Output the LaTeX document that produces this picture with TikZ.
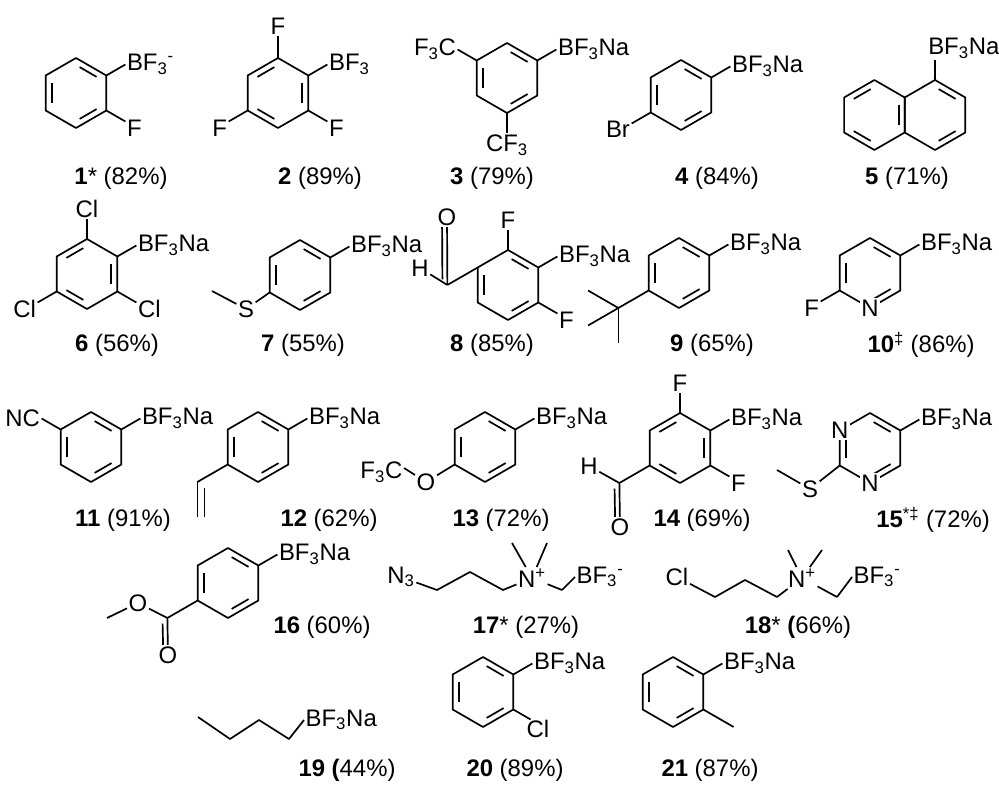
\documentclass[tikz,border=0pt]{standalone}
\usepackage{fontspec}
\setmainfont{Liberation Sans}
\usetikzlibrary{calc}

\newcommand{\ssub}[1]{\textsubscript{#1}}
\newcommand{\ssup}[1]{\textsuperscript{#1}}
% ring: centre x, centre y, name, inner double bonds
\newcommand{\benz}[4]{%
  \coordinate (#3) at (#1,#2);
  \foreach \k/\a in {1/-90,2/-30,3/30,4/90,5/150,6/210}
    \coordinate (#3\k) at ($(#3)+(\a:\rr)$);
  \draw[bond] (#31)--(#32)--(#33)--(#34)--(#35)--(#36)--cycle;
  \foreach \i/\j in {#4}
    \draw[bond,shorten <=3pt,shorten >=3pt] ($(#3)!0.8!(#3\i)$) -- ($(#3)!0.8!(#3\j)$);
}

\begin{document}
\begin{tikzpicture}[x=0.025cm,y=-0.025cm,
  font=\fontsize{17}{20}\selectfont,
  bond/.style={line width=1.2pt,line join=round},
  atom/.style={fill=white,inner sep=1pt},
  grp/.style={inner sep=1pt},
  cpd/.style={inner sep=0pt}]
\pgfmathsetmacro{\rr}{35};
\useasboundingbox (0,0) rectangle (999,786);

% row 1
\benz{76}{93}{a}{1/2,3/4,5/6}
\draw[bond] (a2) -- ++(-30:22) coordinate (ab);
\node[grp,anchor=west] (aB) at (ab) {BF\ssub{3}\ssup{-}};
\draw[bond] (a3) -- ++(30:22) coordinate (af);
\node[grp,anchor=north west] (aF) at ([yshift=2pt]af) {F};
\node[cpd] (l1) at (121,178) {\textbf{1}* (82\%)};

\benz{278}{93}{b}{2/3,4/5,6/1}
\draw[bond] (b1) -- ++(0,-22) coordinate (bt);
\node[grp,anchor=south] (bF1) at (bt) {F};
\draw[bond] (b2) -- ++(-30:22) coordinate (bb);
\node[grp,anchor=west] (bB) at (bb) {BF\ssub{3}};
\draw[bond] (b5) -- ++(150:22) coordinate (bl);
\node[grp,anchor=north east] (bF2) at ([yshift=2pt]bl) {F};
\draw[bond] (b3) -- ++(30:22) coordinate (br);
\node[grp,anchor=north west] (bF3) at ([yshift=2pt]br) {F};
\node[cpd] (l2) at (320,178) {\textbf{2} (89\%)};

\benz{507}{78}{c}{1/2,3/4,5/6}
\draw[bond] (c2) -- ++(-30:22) coordinate (cb);
\node[grp,anchor=west] (cB) at (cb) {BF\ssub{3}Na};
\draw[bond] (c6) -- ++(210:22) coordinate (cl);
\node[grp,anchor=east] (cF1) at (cl) {F\ssub{3}C};
\draw[bond] (c4) -- ++(0,20) coordinate (cd);
\node[grp,anchor=north] (cF2) at (cd) {CF\ssub{3}};
\node[cpd] (l3) at (492,178) {\textbf{3} (79\%)};

\benz{681}{95}{d}{1/2,3/4,5/6}
\draw[bond] (d2) -- ++(-30:22) coordinate (db);
\node[grp,anchor=west] (dB) at (db) {BF\ssub{3}Na};
\draw[bond] (d5) -- ++(150:22) coordinate (dl);
\node[grp,anchor=north east] (dBr) at ([yshift=3pt]dl) {Br};
\node[cpd] (l4) at (717,178) {\textbf{4} (84\%)};

\benz{935}{115}{e}{1/2,3/4}
\benz{874.4}{115}{ee}{2/3,4/5,6/1}
\draw[bond] (e1) -- ++(0,-20) coordinate (eb);
\node[grp,anchor=south west,xshift=-6pt] (eB) at (eb) {BF\ssub{3}Na};
\node[cpd] (l5) at (907,178) {\textbf{5} (71\%)};

% row 2
\benz{87}{274}{f}{2/3,4/5,6/1}
\draw[bond] (f1) -- ++(0,-20) coordinate (ft);
\node[grp,anchor=south] (fC1) at (ft) {Cl};
\draw[bond] (f2) -- ++(-30:22) coordinate (fb);
\node[grp,anchor=west] (fB) at (fb) {BF\ssub{3}Na};
\draw[bond] (f5) -- ++(150:22) coordinate (fl);
\node[grp,anchor=north east] (fC2) at ([yshift=3pt]fl) {Cl};
\draw[bond] (f3) -- ++(30:22) coordinate (fr);
\node[grp,anchor=north west] (fC3) at ([yshift=3pt]fr) {Cl};
\node[cpd] (l6) at (117,345) {\textbf{6} (56\%)};

\benz{300}{275}{g}{1/2,3/4,5/6}
\draw[bond] (g2) -- ++(-30:22) coordinate (gb);
\node[grp,anchor=west] (gB) at (gb) {BF\ssub{3}Na};
\node[atom] (gS) at (246,309) {S};
\draw[bond] (g5) -- (gS);
\draw[bond] (gS) -- (212,291);
\node[cpd] (l7) at (303,345) {\textbf{7} (55\%)};

\benz{508}{285}{h}{1/2,3/4,5/6}
\draw[bond] (h1) -- ++(0,-20) coordinate (ht);
\node[grp,anchor=south] (hF1) at (ht) {F};
\draw[bond] (h2) -- ++(-30:22) coordinate (hb);
\node[grp,anchor=west] (hB) at (hb) {BF\ssub{3}Na};
\draw[bond] (h3) -- ++(30:22) coordinate (hr);
\node[grp,anchor=north west] (hF2) at ([yshift=2pt]hr) {F};
\draw[bond] (h6) -- ++(150:35) coordinate (hc);
\node[atom] (hO) at (447,217) {O};
\node[atom] (hH) at (420,268) {H};
\draw[bond] (hc) -- (hO);
\draw[bond,shorten <=4pt] ([xshift=-3.5pt]hc) -- ([xshift=-3.5pt]hO.south);
\draw[bond] (hc) -- (hH);
\node[cpd] (l8) at (492,345) {\textbf{8} (85\%)};

\benz{679}{273}{i}{1/2,3/4,5/6}
\draw[bond] (i2) -- ++(-30:22) coordinate (ib);
\node[grp,anchor=west] (iB) at (ib) {BF\ssub{3}Na};
\draw[bond] (i5) -- ++(150:35) coordinate (iq);
\draw[bond] (iq) -- ++(210:35);
\draw[bond] (iq) -- ++(150:35);
\draw[bond] (iq) -- ++(90:35);
\node[cpd] (l9) at (712,345) {\textbf{9} (65\%)};

\benz{870}{273}{j}{1/2,3/4,5/6}
\node[atom] (jN) at (j4) {N};
\draw[bond] (j2) -- ++(-30:22) coordinate (jb);
\node[grp,anchor=west] (jB) at (jb) {BF\ssub{3}Na};
\draw[bond] (j5) -- ++(150:22) coordinate (jl);
\node[grp,anchor=north east] (jF) at ([yshift=2pt]jl) {F};
\node[cpd] (l10) at (921,345) {\textbf{10}\ssup{‡} (86\%)};

% row 3
\benz{91}{447}{k}{1/2,3/4,5/6}
\draw[bond] (k2) -- ++(-30:22) coordinate (kb);
\node[grp,anchor=west] (kB) at (kb) {BF\ssub{3}Na};
\draw[bond] (k6) -- ++(210:22) coordinate (kl);
\node[grp,anchor=east] (kCN) at (kl) {NC};
\node[cpd] (l11) at (123,520) {\textbf{11} (91\%)};

\benz{258}{447}{l}{1/2,3/4,5/6}
\draw[bond] (l2) -- ++(-30:22) coordinate (lb);
\node[grp,anchor=west] (lB) at (lb) {BF\ssub{3}Na};
\draw[bond] (l5) -- ++(150:35) coordinate (lv);
\draw[bond] (lv) -- ++(0,35) coordinate (lw);
\draw[bond,shorten <=4pt] ([xshift=5pt]lv) -- ([xshift=5pt]lw);
\node[cpd] (l12) at (329,520) {\textbf{12} (62\%)};

\benz{485}{447}{m}{1/2,3/4,5/6}
\draw[bond] (m2) -- ++(-30:22) coordinate (mb);
\node[grp,anchor=west] (mB) at (mb) {BF\ssub{3}Na};
\node[atom] (mO) at (426,482) {O};
\draw[bond] (m5) -- (mO);
\draw[bond] (mO) -- (404,468) coordinate (mc);
\node[grp,anchor=east] (mF) at ([yshift=-3pt]mc) {F\ssub{3}C};
\node[cpd] (l13) at (501,520) {\textbf{13} (72\%)};

\benz{680}{448}{n}{2/3,4/5,6/1}
\draw[bond] (n1) -- ++(0,-20) coordinate (nt);
\node[grp,anchor=south] (nF1) at (nt) {F};
\draw[bond] (n2) -- ++(-30:22) coordinate (nb);
\node[grp,anchor=west] (nB) at (nb) {BF\ssub{3}Na};
\draw[bond] (n3) -- ++(30:22) coordinate (nr);
\node[grp,anchor=north west] (nF2) at ([yshift=2pt]nr) {F};
\draw[bond] (n5) -- ++(150:35) coordinate (nc);
\node[atom] (nO) at (620,527) {O};
\node[atom] (nH) at (589,466) {H};
\draw[bond] (nc) -- (nO);
\draw[bond,shorten <=4pt] ([xshift=-3.5pt]nc) -- ([xshift=-3.5pt]nO.north);
\draw[bond] (nc) -- (nH);
\node[cpd] (l14) at (702,520) {\textbf{14} (69\%)};

\benz{870}{448}{o}{1/2,3/4,5/6}
\node[atom] (oN1) at (o6) {N};
\node[atom] (oN2) at (o4) {N};
\draw[bond] (o2) -- ++(-30:22) coordinate (ob);
\node[grp,anchor=west] (oB) at (ob) {BF\ssub{3}Na};
\node[atom] (oS) at (810,489) {S};
\draw[bond] (o5) -- (oS);
\draw[bond] (oS) -- (777,470);
\node[cpd] (l15) at (933,520) {\textbf{15}\ssup{*‡} (72\%)};

% row 4
\benz{228}{583}{p}{1/2,3/4,5/6}
\draw[bond] (p2) -- ++(-30:22) coordinate (pb);
\node[grp,anchor=west] (pB) at (pb) {BF\ssub{3}Na};
\draw[bond] (p5) -- ++(150:35) coordinate (pc);
\node[atom] (pO1) at (168,655) {O};
\node[atom] (pO2) at (138,603) {O};
\draw[bond] (pc) -- (pO1);
\draw[bond,shorten <=4pt] ([xshift=-3.5pt]pc) -- ([xshift=-3.5pt]pO1.north);
\draw[bond] (pc) -- (pO2);
\draw[bond] (pO2) -- (107,618);
\node[cpd] (l16) at (322,627) {\textbf{16} (60\%)};

\node[atom] (qN3) at (401,577) {N\ssub{3}};
\node[atom] (qN) at (532,578) {N\ssup{+}};
\draw[bond] (qN3) -- (437,590) -- (470,572) -- (503,590) -- (qN);
\draw[bond] (qN) -- (512,543);
\draw[bond] (qN) -- (547,543);
\draw[bond] (qN) -- (562,590) coordinate (qm);
\node[grp,anchor=west] (qB) at (575,577) {BF\ssub{3}\ssup{-}};
\draw[bond] (qm) -- (qB.west);
\node[cpd] (l17) at (526,627) {\textbf{17}* (27\%)};

\node[atom] (sCl) at (677,577) {Cl};
\node[atom] (sN) at (802,578) {N\ssup{+}};
\draw[bond] (sCl) -- (715,597) -- (745,580) -- (777,597) -- (sN);
\draw[bond] (sN) -- (788,550);
\draw[bond] (sN) -- (822,550);
\draw[bond] (sN) -- (837,597) coordinate (sm);
\node[grp,anchor=west] (sB) at (852,577) {BF\ssub{3}\ssup{-}};
\draw[bond] (sm) -- (sB.west);
\node[cpd] (l18) at (798,627) {\textbf{18}* \textbf{(}66\%)};

% row 5
\node[grp,anchor=west] (tB) at (304,720) {BF\ssub{3}Na};
\draw[bond] (198,717) -- (230,739) -- (259,720) -- (289,739) -- (tB.west);
\node[cpd] (l19) at (347,770) {\textbf{19 (}44\%)};

\benz{483}{692}{u}{1/2,3/4,5/6}
\draw[bond] (u2) -- ++(-30:22) coordinate (ub);
\node[grp,anchor=west] (uB) at (ub) {BF\ssub{3}Na};
\draw[bond] (u3) -- ++(30:20) coordinate (uc);
\node[grp,anchor=north west,xshift=-4pt] (uCl) at ([yshift=1pt]uc) {Cl};
\node[cpd] (l20) at (515,770) {\textbf{20} (89\%)};

\benz{673}{692}{v}{1/2,3/4,5/6}
\draw[bond] (v2) -- ++(-30:22) coordinate (vb);
\node[grp,anchor=west] (vB) at (vb) {BF\ssub{3}Na};
\draw[bond] (v3) -- ++(30:35);
\node[cpd] (l21) at (710,770) {\textbf{21} (87\%)};
\end{tikzpicture}
\end{document}
